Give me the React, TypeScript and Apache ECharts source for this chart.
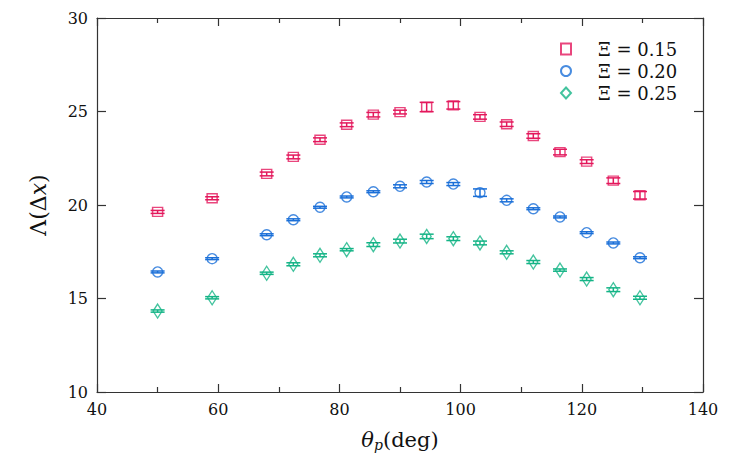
import React, { useEffect, useRef } from "react";
import * as echarts from "echarts";

const thetaP = [50, 59, 68, 72.4, 76.8, 81.2, 85.6, 90, 94.4, 98.8, 103.2, 107.6, 112, 116.4, 120.8, 125.2, 129.6];

const seriesNames = ["Ξ = 0.15", "Ξ = 0.20", "Ξ = 0.25"];

const lambda015 = [19.63, 20.36, 21.66, 22.57, 23.49, 24.29, 24.83, 24.97, 25.24, 25.33, 24.71, 24.32, 23.69, 22.83, 22.32, 21.3, 20.52];
const err015 = [0.08, 0.08, 0.1, 0.1, 0.1, 0.1, 0.12, 0.1, 0.25, 0.2, 0.12, 0.12, 0.12, 0.15, 0.1, 0.15, 0.2];

const lambda020 = [16.42, 17.13, 18.41, 19.21, 19.88, 20.43, 20.71, 21.0, 21.23, 21.12, 20.66, 20.25, 19.8, 19.36, 18.52, 17.97, 17.18];
const err020 = [0.05, 0.05, 0.05, 0.05, 0.05, 0.05, 0.05, 0.08, 0.08, 0.08, 0.2, 0.08, 0.05, 0.05, 0.05, 0.05, 0.05];

const lambda025 = [14.33, 15.04, 16.35, 16.83, 17.31, 17.61, 17.88, 18.07, 18.32, 18.2, 17.97, 17.47, 16.95, 16.52, 16.04, 15.47, 15.04];
const err025 = [0.06, 0.06, 0.06, 0.08, 0.08, 0.06, 0.1, 0.1, 0.12, 0.1, 0.1, 0.08, 0.08, 0.06, 0.08, 0.1, 0.08];

const colors = ["#e3185c", "#1a6fd8", "#14b486"];
const symbols = ["rect", "circle", "diamond"];
const symbolSizes: any[] = [[10, 9], 10, [9, 14]];

const FONT = "DejaVu Serif";

export default function App() {
  const ref = useRef<HTMLDivElement>(null);
  useEffect(() => {
    document.body.style.margin = "0";
    const chart = echarts.init(ref.current!, null, { renderer: "svg" });
    const values = [lambda015, lambda020, lambda025];
    const errs = [err015, err020, err025];
    const axisLine = { show: true, lineStyle: { color: "#333", width: 1.2 } };
    const series: any[] = [];
    values.forEach((vals, k) => {
      series.push({
        type: "custom",
        name: "err" + k,
        xAxisIndex: 0,
        yAxisIndex: 0,
        z: 2,
        encode: { x: 0, y: [1, 2] },
        data: thetaP.map((x, i) => [x, vals[i] - errs[k][i], vals[i] + errs[k][i]]),
        renderItem: (params: any, api: any) => {
          const x = api.value(0);
          const lo = api.coord([x, api.value(1)]);
          const hi = api.coord([x, api.value(2)]);
          const hw = 7;
          const style = { stroke: colors[k], lineWidth: 1.5, fill: "none" };
          return {
            type: "group",
            children: [
              { type: "line", shape: { x1: lo[0], y1: lo[1], x2: hi[0], y2: hi[1] }, style },
              { type: "line", shape: { x1: lo[0] - hw, y1: lo[1], x2: lo[0] + hw, y2: lo[1] }, style },
              { type: "line", shape: { x1: hi[0] - hw, y1: hi[1], x2: hi[0] + hw, y2: hi[1] }, style },
            ],
          };
        },
      });
      series.push({
        type: "scatter",
        name: seriesNames[k],
        z: 3,
        symbol: symbols[k],
        symbolSize: symbolSizes[k],
        itemStyle: { color: "rgba(0,0,0,0)", borderColor: colors[k], borderWidth: 1.4 },
        data: thetaP.map((x, i) => [x, vals[i]]),
      });
    });

    chart.setOption({
      animation: false,
      backgroundColor: "#fff",
      grid: { left: 97, right: 45, top: 18, bottom: 70 },
      legend: {
        orient: "vertical",
        left: 555,
        top: 34,
        itemWidth: 10,
        itemHeight: 11,
        itemGap: 2,
        data: seriesNames.map((n, k) => ({ name: n, icon: symbols[k] })),
        textStyle: { fontFamily: FONT, fontSize: 18, color: "#111", padding: [0, 0, 0, 22], lineHeight: 20 },
      },
      xAxis: [
        {
          type: "value",
          min: 40,
          max: 140,
          interval: 20,
          position: "bottom",
          axisLine,
          splitLine: { show: false },
          axisTick: { show: true, inside: true, length: 8, lineStyle: { color: "#333", width: 1.2 } },
          minorTick: { show: true, splitNumber: 2, length: 5, lineStyle: { color: "#333", width: 1.2 } },
          axisLabel: { fontFamily: FONT, fontSize: 16, color: "#111", margin: 9 },
          name: "{i|θ}{s|p}{n|(deg)}",
          nameLocation: "middle",
          nameGap: 36,
          nameTextStyle: {
            fontFamily: FONT,
            fontSize: 21,
            color: "#111",
            rich: {
              i: { fontFamily: FONT, fontSize: 21, fontStyle: "italic", color: "#111" },
              s: { fontFamily: FONT, fontSize: 14, fontStyle: "italic", color: "#111", padding: [10, 0, 0, 0] },
              n: { fontFamily: FONT, fontSize: 21, color: "#111" },
            },
          },
        },
        {
          type: "value",
          min: 40,
          max: 140,
          interval: 20,
          position: "top",
          axisLine,
          splitLine: { show: false },
          axisTick: { show: true, inside: true, length: 8, lineStyle: { color: "#333", width: 1.2 } },
          minorTick: { show: true, splitNumber: 2, length: 5, lineStyle: { color: "#333", width: 1.2 } },
          axisLabel: { show: false },
        },
      ],
      yAxis: [
        {
          type: "value",
          min: 10,
          max: 30,
          interval: 5,
          position: "left",
          axisLine,
          splitLine: { show: false },
          axisTick: { show: true, inside: true, length: 9, lineStyle: { color: "#333", width: 1.2 } },
          axisLabel: { fontFamily: FONT, fontSize: 16, color: "#111", margin: 9 },
          name: "{n|Λ(Δ}{i|x}{n|)}",
          nameLocation: "middle",
          nameGap: 48,
          nameRotate: 90,
          nameTextStyle: {
            fontFamily: FONT,
            fontSize: 22,
            color: "#111",
            rich: {
              i: { fontFamily: FONT, fontSize: 22, fontStyle: "italic", color: "#111" },
              n: { fontFamily: FONT, fontSize: 22, color: "#111" },
            },
          },
        },
        {
          type: "value",
          min: 10,
          max: 30,
          interval: 5,
          position: "right",
          axisLine,
          splitLine: { show: false },
          axisTick: { show: true, inside: true, length: 9, lineStyle: { color: "#333", width: 1.2 } },
          axisLabel: { show: false },
        },
      ],
      series,
    });
    return () => chart.dispose();
  }, []);
  return <div ref={ref} style={{ width: 748, height: 462 }} />;
}
